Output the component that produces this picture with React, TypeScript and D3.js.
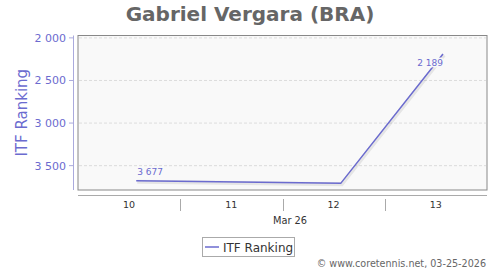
import React from "react";
import * as d3 from "d3";

const title = "Gabriel Vergara (BRA)";
const seriesName = "ITF Ranking";
const dates = ["2026-03-10T13:40", "2026-03-12T13:40", "2026-03-13T13:40"];
const rankings = [3677, 3708, 2189];
const labelled = [true, false, true];
const yTicks = [2000, 2500, 3000, 3500];
const xDays = ["2026-03-10", "2026-03-11", "2026-03-12", "2026-03-13", "2026-03-14"];
const xGroupLabel = "Mar 26";
const credit = "© www.coretennis.net, 03-25-2026";

const fmt = (v: number) => {
  const s = String(v);
  return s.length > 3 ? s.slice(0, s.length - 3) + " " + s.slice(s.length - 3) : s;
};

export default function App() {
  const W = 500, H = 270;
  const L = 78, R = 487, T = 35.5, B = 190;
  const parse = (s: string) => new Date(s);
  const x = d3.scaleTime().domain([parse(xDays[0]), parse(xDays[xDays.length - 1])]).range([L, R]);
  const y = d3.scaleLinear().domain([1972, 3786]).range([T, B]);
  const pts = dates.map((d, i) => ({ x: x(parse(d)), y: y(rankings[i]), v: rankings[i], lab: labelled[i], i }));
  const line = d3.line<{ x: number; y: number }>().x((d) => d.x).y((d) => d.y);
  const font = "DejaVu Sans, Verdana, sans-serif";
  const blue = "#6b6bcf";
  const last = pts.length - 1;
  return (
    <svg width={W} height={H} style={{ position: "absolute", left: 0, top: 0 }} fontFamily={font}>
      <rect x={0} y={0} width={W} height={H} fill="#fff" />
      <text x={250} y={21} textAnchor="middle" fontSize={20} fontWeight="bold" fill="#666">{title}</text>
      <rect x={L} y={T} width={R - L} height={B - T} fill="#f9f9f9" stroke="#888" strokeWidth={1} />
      <defs>
        <clipPath id="plotclip"><rect x={L} y={T - 20} width={R - L} height={B - T + 20} /></clipPath>
      </defs>
      {yTicks.map((t) => (
        <g key={t}>
          <line x1={L + 1} x2={R - 1} y1={y(t)} y2={y(t)} stroke="#ddd" strokeDasharray="3,2" />
          <line x1={69} x2={73} y1={y(t)} y2={y(t)} stroke="#aaaadd" />
          <text x={66} y={y(t) + 4} textAnchor="end" fontSize={11} fill={blue}>{fmt(t)}</text>
        </g>
      ))}
      <line x1={73.5} x2={73.5} y1={T} y2={B} stroke="#aaaadd" />
      <text transform={`translate(27,${(T + B) / 2}) rotate(-90)`} textAnchor="middle" fontSize={15} fill={blue}>{seriesName}</text>
      <line x1={L} x2={R} y1={195.5} y2={195.5} stroke="#aaa" />
      {xDays.slice(1, -1).map((d) => (
        <line key={d} x1={Math.round(x(parse(d))) + 0.5} x2={Math.round(x(parse(d))) + 0.5} y1={199} y2={211} stroke="#aaa" />
      ))}
      {xDays.slice(0, -1).map((d, i) => {
        const a = x(parse(d)), b = x(parse(xDays[i + 1]));
        return <text key={d} x={(a + b) / 2} y={208} textAnchor="middle" fontSize={9.5} fill="#333">{d3.timeFormat("%d")(parse(d))}</text>;
      })}
      <text x={290} y={224} textAnchor="middle" fontSize={9.8} fill="#333">{xGroupLabel}</text>
      <g clipPath="url(#plotclip)">
        <path d={line(pts) || ""} fill="none" stroke="#000" strokeOpacity={0.08} strokeWidth={4} transform="translate(1,1)" />
        <path d={line(pts) || ""} fill="none" stroke={blue} strokeWidth={1.5} />
      </g>
      {pts.filter((p) => p.lab).map((p) => (
        <text key={p.i} x={p.i === last ? p.x : p.x + 1}
          y={p.i === last ? p.y + 12.5 : p.y - 5.5}
          textAnchor={p.i === last ? "end" : "start"} fontSize={9} fill={blue}
          stroke="#f9f9f9" strokeWidth={3} paintOrder="stroke">{fmt(p.v)}</text>
      ))}
      <rect x={202.5} y={237.5} width={92} height={19} fill="#fff" stroke="#aaa" />
      <line x1={205} x2={219} y1={247} y2={247} stroke={blue} strokeWidth={1.5} />
      <text x={223} y={251.5} fontSize={12} fill="#333">{seriesName}</text>
      <text x={486} y={267} textAnchor="end" fontSize={9.6} fill="#666">{credit}</text>
    </svg>
  );
}
